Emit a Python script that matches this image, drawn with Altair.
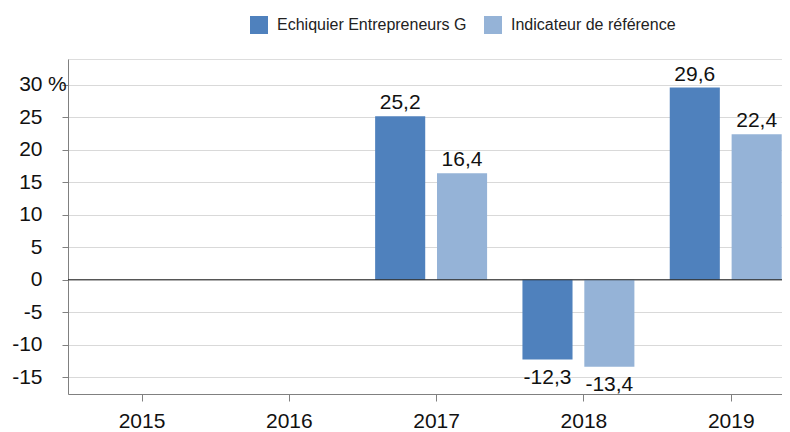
import altair as alt
import pandas as pd

years = [2015, 2016, 2017, 2018, 2019]
fund = [None, None, 25.2, -12.3, 29.6]
bench = [None, None, 16.4, -13.4, 22.4]
series_names = ["Echiquier Entrepreneurs G", "Indicateur de référence"]
colors = ["#4f81bd", "#95b3d7"]
y_ticks = [-15, -10, -5, 0, 5, 10, 15, 20, 25, 30]

rows = []
for i, yr in enumerate(years):
    for k, vals in enumerate([fund, bench]):
        if vals[i] is not None:
            rows.append({"year": yr, "serie": series_names[k], "idx": k, "v": vals[i]})
df = pd.DataFrame(rows)

BW = 0.34   # bar width in year units
GAP = 0.08
SHIFT = -0.034

xscale = alt.Scale(domain=[2014.501, 2019.348], nice=False, zero=False)
yscale = alt.Scale(domain=[-17.6, 34], nice=False, zero=False)

base = alt.Chart(df).transform_calculate(
    x0=f"datum.year + {SHIFT} + datum.idx*({BW}+{GAP}) - ({BW} + {GAP}/2)",
    x1=f"datum.year + {SHIFT} + datum.idx*({BW}+{GAP}) - ({GAP}/2)",
    xc=f"datum.year + {SHIFT} + datum.idx*({BW}+{GAP}) - ({BW}/2 + {GAP}/2)",
    lab="replace(toString(datum.v), '.', ',')",
)

xaxis = alt.Axis(values=years, tickCount=20, labelExpr="'' + datum.value", grid=False, title=None,
                 domainColor="#808080", tickColor="#808080", tickSize=7,
                 labelFontSize=21, labelPadding=9, labelColor="#111",
                 labelOverlap=False, labelBound=False, labelFlush=False)
yaxis = alt.Axis(values=y_ticks, tickCount=20, labelExpr="'' + datum.value", grid=True, gridColor="#d9d9d9",
                 title=None, domainColor="#808080", tickColor="#808080", tickSize=6,
                 labelFontSize=21, labelPadding=20, labelColor="#111",
                 labelOverlap=False, labelBound=False, labelFlush=False)

bars = base.mark_rect().encode(
    x=alt.X("x0:Q", scale=xscale, axis=xaxis),
    x2="x1:Q",
    y=alt.Y("v:Q", scale=yscale, axis=yaxis),
    y2=alt.datum(0),
    color=alt.Color("serie:N", scale=alt.Scale(domain=series_names, range=colors),
                    legend=alt.Legend(orient="none", legendX=182, legendY=-43, direction="horizontal",
                                      title=None, symbolType="square", symbolSize=324,
                                      symbolStrokeWidth=0, labelFontSize=16, labelOffset=9,
                                      labelLimit=400,
                                      columnPadding=17, padding=0, labelColor="#222")),
)

pos_labels = base.transform_filter("datum.v >= 0").mark_text(
    fontSize=21, baseline="alphabetic", dy=-7, color="#111"
).encode(x=alt.X("xc:Q", scale=xscale), y=alt.Y("v:Q", scale=yscale), text="lab:N")

neg_labels = base.transform_filter("datum.v < 0").mark_text(
    fontSize=21, baseline="top", dy=7, color="#111"
).encode(x=alt.X("xc:Q", scale=xscale), y=alt.Y("v:Q", scale=yscale), text="lab:N")

zero = alt.Chart(pd.DataFrame({"z": [0]})).mark_rule(color="#222", strokeWidth=1).encode(
    y=alt.Y("z:Q", scale=yscale)
)

pct = alt.Chart(pd.DataFrame({"t": ["%"], "y": [30]})).mark_text(
    fontSize=21, align="left", baseline="middle", color="#111"
).encode(x=alt.value(-20), y=alt.Y("y:Q", scale=yscale), text="t:N")

chart = alt.layer(bars, zero, pos_labels, neg_labels, pct).properties(
    width=714, height=335,
    autosize=alt.AutoSizeParams(type="none"),
    padding={"left": 60, "top": 51, "right": 0, "bottom": 40},
).configure_view(stroke=None).configure(font="Liberation Sans")

chart.save("out.html", embed_options={"renderer": "svg", "actions": False})
